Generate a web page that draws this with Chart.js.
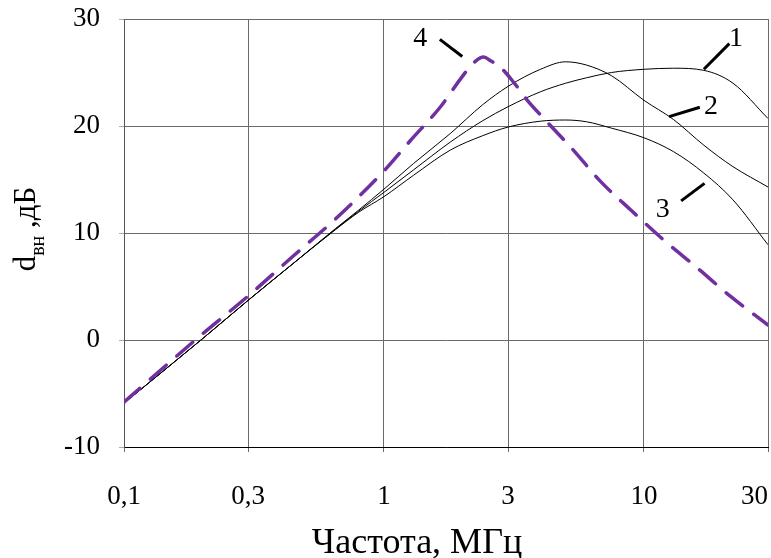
<!DOCTYPE html>
<html><head><meta charset="utf-8">
<script src="https://cdn.jsdelivr.net/npm/chart.js@4/dist/chart.umd.min.js"></script>
<style>html,body{margin:0;padding:0;background:#fff}#wrap{width:771px;height:558px}</style>
</head><body><div id="wrap"><canvas id="c" width="771" height="558"></canvas></div>
<script>
// ---- data ----
const xTickValues = [0.1, 0.3, 1, 3, 10, 30];
const xTickLabels = ['0,1', '0,3', '1', '3', '10', '30'];
const yTickValues = [-10, 0, 10, 20, 30];

const freqSolid = [0.1, 0.2, 0.3, 0.45, 0.65, 0.8, 1, 1.3, 1.8, 2.4, 3, 4, 5, 6, 7.5, 10, 13, 17, 22, 30];
const curve1 = [-5.9, 0.1, 3.7, 7.2, 10.35, 12.05, 13.8, 15.9, 18.5, 20.5, 21.8, 23.2, 24.0, 24.5, 25.0, 25.3, 25.4, 25.2, 24.0, 20.7];
const curve2 = [-5.9, 0.1, 3.7, 7.2, 10.4, 12.15, 14.1, 16.5, 19.3, 22.0, 23.7, 25.3, 26.0, 25.7, 24.7, 22.4, 20.6, 18.2, 16.2, 14.3];
const curve3 = [-5.9, 0.1, 3.7, 7.2, 10.3, 11.95, 13.4, 15.4, 17.75, 19.1, 19.9, 20.45, 20.56, 20.4, 19.8, 18.9, 17.6, 15.6, 13.1, 8.9];

const freqDashed = [0.1, 0.2, 0.3, 0.45, 0.65, 1, 1.26, 1.65, 1.97, 2.21, 2.42, 2.57, 2.8, 3.15, 3.56, 4.12, 5.35, 6.82, 8.9, 11.9, 16.1, 21.6, 30];
const curve4 = [-5.8, 0.55, 4.1, 7.9, 11.3, 15.8, 18.6, 21.8, 24.4, 25.9, 26.45, 26.1, 25.5, 24.1, 22.4, 20.7, 17.75, 14.8, 12.15, 9.35, 6.7, 4.05, 1.4];

// curve labels (data units: frequency, dB)
const annoLabels = ['1', '2', '3', '4'];
const annoTextPos = [[22.6, 28.2], [18.1, 21.8], [11.8, 12.15], [1.38, 28.2]];
const annoLineFrom = [[21.3, 27.7], [16.4, 21.75], [13.9, 13.0], [1.64, 28.1]];
const annoLineTo = [[17.0, 25.3], [12.5, 20.87], [17.1, 14.64], [2.0, 26.5]];

const yTitleMain1 = 'd';
const yTitleSub = 'вн';
const yTitleMain2 = ' ,дБ';
const xTitle = 'Частота, МГц';

// ---- chart ----
const toXY = (xs, ys) => xs.map((x, i) => ({x: x, y: ys[i]}));
const FONT = '"Liberation Serif", "Times New Roman", serif';

const annoPlugin = {
  id: 'anno',
  afterDatasetsDraw(chart) {
    const ctx = chart.ctx, xs = chart.scales.x, ys = chart.scales.y;
    ctx.save();
    ctx.strokeStyle = '#000';
    ctx.lineWidth = 3;
    ctx.lineCap = 'butt';
    ctx.fillStyle = '#000';
    ctx.font = '28px ' + FONT;
    ctx.textAlign = 'center';
    ctx.textBaseline = 'middle';
    annoLabels.forEach((t, i) => {
      ctx.beginPath();
      ctx.moveTo(xs.getPixelForValue(annoLineFrom[i][0]), ys.getPixelForValue(annoLineFrom[i][1]));
      ctx.lineTo(xs.getPixelForValue(annoLineTo[i][0]), ys.getPixelForValue(annoLineTo[i][1]));
      ctx.stroke();
      ctx.fillText(t, xs.getPixelForValue(annoTextPos[i][0]), ys.getPixelForValue(annoTextPos[i][1]));
    });
    ctx.restore();
  },
  afterDraw(chart) {
    const ctx = chart.ctx, ca = chart.chartArea;
    ctx.save();
    ctx.fillStyle = '#000';
    // x-axis title
    ctx.font = '36px ' + FONT;
    ctx.textAlign = 'center';
    ctx.textBaseline = 'alphabetic';
    ctx.fillText(xTitle, ca.left + (ca.right - ca.left) * 0.455, chart.height - 5);
    // y-axis title with subscript
    ctx.textAlign = 'left';
    const mainFont = '31px ' + FONT, subFont = '20px ' + FONT;
    ctx.font = mainFont; const w1 = ctx.measureText(yTitleMain1).width; const w3 = ctx.measureText(yTitleMain2).width;
    ctx.font = subFont; const w2 = ctx.measureText(yTitleSub).width;
    const total = w1 + w2 + w3;
    const cy = (ca.top + ca.bottom) / 2 - 4;
    ctx.translate(35, cy);
    ctx.rotate(-Math.PI / 2);
    let x = -total / 2;
    ctx.font = mainFont; ctx.fillText(yTitleMain1, x, 0); x += w1;
    ctx.font = subFont; ctx.fillText(yTitleSub, x, 9); x += w2;
    ctx.font = mainFont; ctx.fillText(yTitleMain2, x, 0);
    ctx.restore();
  }
};

new Chart(document.getElementById('c'), {
  type: 'line',
  data: {
    datasets: [
      {data: toXY(freqDashed, curve4), borderColor: '#7030A0', borderWidth: 3.5, borderDash: [21, 14], borderCapStyle: 'round', order: 0},
      {data: toXY(freqSolid, curve1), borderColor: '#000', borderWidth: 1, order: 1},
      {data: toXY(freqSolid, curve2), borderColor: '#000', borderWidth: 1, order: 1},
      {data: toXY(freqSolid, curve3), borderColor: '#000', borderWidth: 1, order: 1}
    ]
  },
  options: {
    responsive: false,
    animation: false,
    events: [],
    layout: {padding: {top: 19, right: 3, left: 0, bottom: 0}},
    elements: {point: {radius: 0}, line: {cubicInterpolationMode: 'monotone', fill: false}},
    plugins: {legend: {display: false}, tooltip: {enabled: false}, title: {display: false}},
    scales: {
      x: {
        type: 'logarithmic', min: 0.1, max: 30,
        afterBuildTicks(s) { s.ticks = xTickValues.map(v => ({value: v})); },
        afterFit(s) { s.height = 111; s.paddingLeft = 0; s.paddingRight = 0; },
        ticks: {autoSkip: false, maxRotation: 0, padding: 29, color: '#000',
          font: {family: FONT, size: 27},
          // last label kept inside the canvas (right-aligned look, as in the reference)
          callback: (v, i) => i === xTickLabels.length - 1 ? xTickLabels[i] + '\u00A0\u00A0\u00A0\u00A0' : xTickLabels[i]},
        grid: {color: '#6a6a6a', lineWidth: 1, tickLength: 5, tickColor: '#6a6a6a'},
        border: {display: true, color: '#000', width: 1},
        title: {display: false}
      },
      y: {
        type: 'linear', min: -10, max: 30,
        afterBuildTicks(s) { s.ticks = yTickValues.map(v => ({value: v})); },
        afterFit(s) { s.width = 124; s.paddingTop = 0; s.paddingBottom = 0; },
        ticks: {padding: 19, color: '#000', font: {family: FONT, size: 27}},
        grid: {color: '#6a6a6a', lineWidth: 1, tickLength: 5, tickColor: '#aaa'},
        border: {display: true, color: '#555', width: 1}
      }
    }
  },
  plugins: [annoPlugin]
});
</script>
</body></html>
